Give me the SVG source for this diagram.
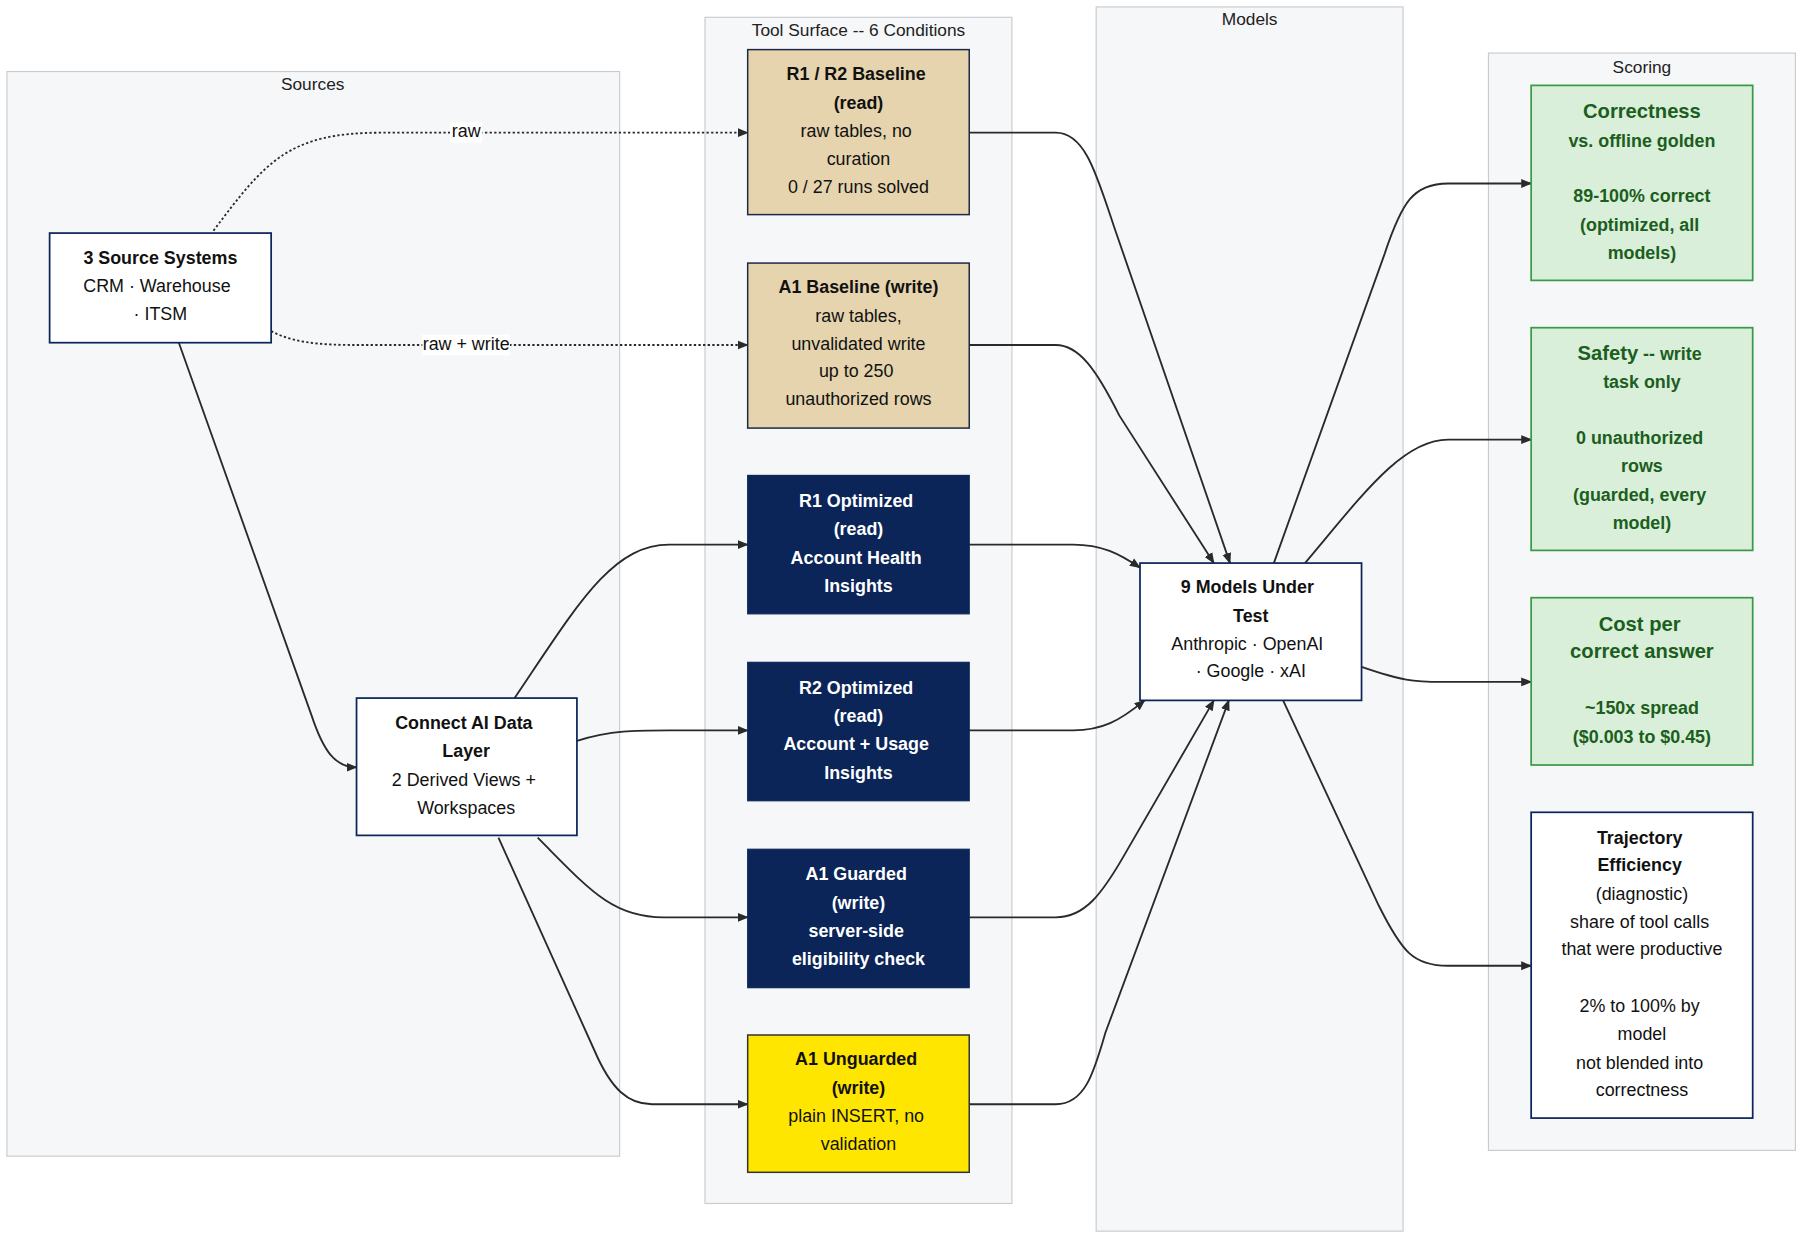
<svg xmlns="http://www.w3.org/2000/svg" width="1800" height="1239" viewBox="0 0 1800 1239">
<style>
text{font-family:"Liberation Sans",Arial,sans-serif;font-size:15.5px;text-anchor:middle;dominant-baseline:middle;fill:#111}
.b{font-weight:bold}
.w{fill:#fff;font-weight:bold}
.g{fill:#1b5e20;font-weight:bold}
.gt{fill:#1b5e20;font-weight:bold;font-size:17.5px}
.cl{fill:#f6f7f9;stroke:#c9cbcf;stroke-width:1}
.ct{font-size:15px;fill:#222}
.wn{fill:#fff;stroke:#0b2559;stroke-width:1.5}
.tan{fill:#e6d4ae;stroke:#1e2a45;stroke-width:1.3}
.nv{fill:#0b2559;stroke:#0b2559}
.yl{fill:#ffe600;stroke:#333;stroke-width:1.3}
.gr{fill:#d9efd9;stroke:#3a9a48;stroke-width:1.5}
.e{fill:none;stroke:#2a2a2a;stroke-width:1.6;marker-end:url(#a)}
.d{stroke-dasharray:2 2}
.lb{fill:#fff}
</style>
<defs><marker id="a" viewBox="0 0 10 10" refX="9" refY="5" markerWidth="6" markerHeight="6" orient="auto"><path d="M0,1 L10,5 L0,9 z" fill="#2a2a2a"/></marker></defs>
<rect width="1800" height="1239" fill="#fff"/>
<g transform="scale(1.15385)">
<g id="clusters">
<rect class="cl" x="6" y="62" width="531" height="940"/><text class="ct" x="271" y="74">Sources</text>
<rect class="cl" x="611" y="15" width="266" height="1028"/><text class="ct" x="744" y="27">Tool Surface -- 6 Conditions</text>
<rect class="cl" x="950" y="6" width="266" height="1061"/><text class="ct" x="1083" y="18">Models</text>
<rect class="cl" x="1290" y="46" width="266" height="951"/><text class="ct" x="1423" y="59">Scoring</text>
</g>
<g id="edges">
<path class="e d" d="M185,200 C230,140 250,115 330,115 L648,115"/>
<path class="e d" d="M235,287 C260,300 290,299 330,299 L648,299"/>
<path class="e" d="M155,297 L270,620 C280,650 290,665 309,665"/>
<path class="e" d="M446,605 C500,525 530,472 580,472 L648,472"/>
<path class="e" d="M500,642 C530,633 550,633 580,633 L648,633"/>
<path class="e" d="M466,726 C510,770 530,795 575,795 L648,795"/>
<path class="e" d="M432,726 L515,910 C530,945 545,957 565,957 L648,957"/>
<path class="e" d="M840,115 L915,115 C940,115 950,150 965,195 L1066,488"/>
<path class="e" d="M840,299 L915,299 C935,299 950,320 970,360 L1052,488"/>
<path class="e" d="M840,472 L930,472 C955,472 970,480 988,492"/>
<path class="e" d="M840,633 L930,633 C955,633 970,625 992,607"/>
<path class="e" d="M840,795 L915,795 C940,795 955,775 975,740 L1052,607"/>
<path class="e" d="M840,957 L915,957 C940,957 948,930 958,895 L1065,607"/>
<path class="e" d="M1104,488 L1200,220 C1215,175 1225,159 1255,159 L1327,159"/>
<path class="e" d="M1131,488 C1180,430 1215,381 1255,381 L1327,381"/>
<path class="e" d="M1180,578 C1215,590 1225,591 1250,591 L1327,591"/>
<path class="e" d="M1112,607 L1195,785 C1215,825 1225,837 1255,837 L1327,837"/>
<rect class="lb" x="390" y="106" width="28" height="18"/><text x="404" y="115">raw</text>
<rect class="lb" x="366" y="290" width="76" height="18"/><text x="404" y="299">raw + write</text>
</g>
<g id="src"><rect class="wn" x="43" y="202" width="192" height="95"/>
<text class="b" x="139" y="225">3 Source Systems</text><text x="136" y="249">CRM · Warehouse</text><text x="139" y="273">· ITSM</text></g>
<g id="connect"><rect class="wn" x="309" y="605" width="191" height="119"/>
<text class="b" x="402" y="628">Connect AI Data</text><text class="b" x="404" y="652">Layer</text><text x="402" y="677">2 Derived Views +</text><text x="404" y="701">Workspaces</text></g>
<g id="r1r2b"><rect class="tan" x="648" y="43" width="192" height="143"/>
<text class="b" x="742" y="65">R1 / R2 Baseline</text><text class="b" x="744" y="90">(read)</text><text x="742" y="115">raw tables, no</text><text x="744" y="139">curation</text><text x="744" y="163">0 / 27 runs solved</text></g>
<g id="a1b"><rect class="tan" x="648" y="228" width="192" height="143"/>
<text class="b" x="744" y="250">A1 Baseline (write)</text><text x="744" y="275">raw tables,</text><text x="744" y="299">unvalidated write</text><text x="742" y="323">up to 250</text><text x="744" y="347">unauthorized rows</text></g>
<g id="r1o"><rect class="nv" x="648" y="412" width="192" height="120"/>
<text class="w" x="742" y="435">R1 Optimized</text><text class="w" x="744" y="460">(read)</text><text class="w" x="742" y="485">Account Health</text><text class="w" x="744" y="509">Insights</text></g>
<g id="r2o"><rect class="nv" x="648" y="574" width="192" height="120"/>
<text class="w" x="742" y="597">R2 Optimized</text><text class="w" x="744" y="622">(read)</text><text class="w" x="742" y="646">Account + Usage</text><text class="w" x="744" y="671">Insights</text></g>
<g id="a1g"><rect class="nv" x="648" y="736" width="192" height="120"/>
<text class="w" x="742" y="759">A1 Guarded</text><text class="w" x="744" y="784">(write)</text><text class="w" x="742" y="808">server-side</text><text class="w" x="744" y="832">eligibility check</text></g>
<g id="a1u"><rect class="yl" x="648" y="897" width="192" height="119"/>
<text class="b" x="742" y="919">A1 Unguarded</text><text class="b" x="744" y="944">(write)</text><text x="742" y="968">plain INSERT, no</text><text x="744" y="993">validation</text></g>
<g id="models"><rect class="wn" x="988" y="488" width="192" height="119"/>
<text class="b" x="1081" y="510">9 Models Under</text><text class="b" x="1084" y="535">Test</text><text x="1081" y="559">Anthropic · OpenAI</text><text x="1084" y="583">· Google · xAI</text></g>
<g id="correct"><rect class="gr" x="1327" y="74" width="192" height="169"/>
<text class="gt" x="1423" y="98">Correctness</text><text class="g" x="1423" y="123">vs. offline golden</text><text class="g" x="1423" y="171">89-100% correct</text><text class="g" x="1421" y="196">(optimized, all</text><text class="g" x="1423" y="220">models)</text></g>
<g id="safety"><rect class="gr" x="1327" y="284" width="192" height="193"/>
<text class="g" x="1421" y="308"><tspan font-size="17.5px">Safety</tspan> -- write</text><text class="g" x="1423" y="332">task only</text><text class="g" x="1421" y="381">0 unauthorized</text><text class="g" x="1423" y="405">rows</text><text class="g" x="1421" y="430">(guarded, every</text><text class="g" x="1423" y="454">model)</text></g>
<g id="cost"><rect class="gr" x="1327" y="518" width="192" height="145"/>
<text class="gt" x="1421" y="542">Cost per</text><text class="gt" x="1423" y="566">correct answer</text><text class="g" x="1423" y="615">~150x spread</text><text class="g" x="1423" y="640">($0.003 to $0.45)</text></g>
<g id="traj"><rect class="wn" x="1327" y="704" width="192" height="265"/>
<text class="b" x="1421" y="727">Trajectory</text><text class="b" x="1421" y="751">Efficiency</text><text x="1423" y="776">(diagnostic)</text><text x="1421" y="800">share of tool calls</text><text x="1423" y="824">that were productive</text><text x="1421" y="873">2% to 100% by</text><text x="1423" y="897">model</text><text x="1421" y="922">not blended into</text><text x="1423" y="946">correctness</text></g>
</g>
</svg>
